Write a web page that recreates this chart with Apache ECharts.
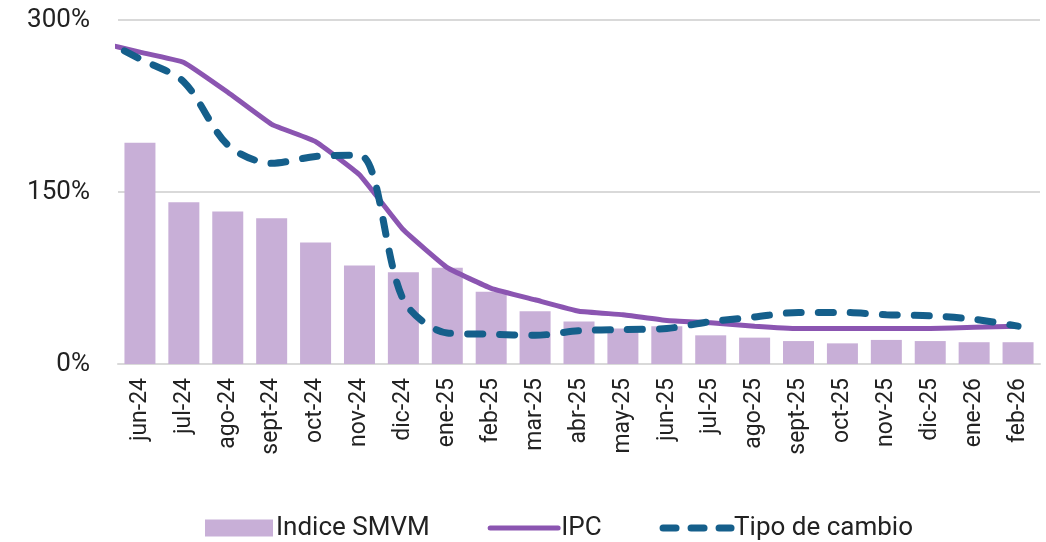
<!DOCTYPE html>
<html>
<head>
<meta charset="utf-8">
<script src="https://cdn.jsdelivr.net/npm/echarts@6/dist/echarts.min.js"></script>
<style>
  html, body { margin: 0; padding: 0; background: #fff; }
  #chart { width: 1046px; height: 542px; }
</style>
</head>
<body>
<div id="chart"></div>
<script>
// meses
var meses = ['jun-24', 'jul-24', 'ago-24', 'sept-24', 'oct-24', 'nov-24', 'dic-24',
  'ene-25', 'feb-25', 'mar-25', 'abr-25', 'may-25', 'jun-25', 'jul-25', 'ago-25',
  'sept-25', 'oct-25', 'nov-25', 'dic-25', 'ene-26', 'feb-26']

var smvm = [193, 141, 133, 127, 106, 86, 80, 84, 63, 46, 37, 31, 33, 25, 23, 20, 18, 21, 20, 19, 19]
// las lineas arrancan un mes antes (may-24), que queda cortado en el borde del grafico
var ipc = [281, 272, 263, 237, 209, 194, 165, 117, 84, 66, 56, 46, 43, 38, 36, 33, 31, 31, 31, 31, 32, 33]
var tipoCambio = [286, 266, 246, 191, 175, 181, 182, 56, 27, 26, 25, 29, 30, 31, 37, 41, 45, 45, 43, 42, 39, 33]

var yTicks = [0, 150, 300]

// x de las lineas: indice del mes (-1 = may-24)
function conIndice(arr) {
  return arr.map(function (v, i) { return [i - 1, v] })
}

var myChart = echarts.init(document.getElementById('chart'))
var option = {
  animation: false,
  textStyle: { fontFamily: 'Roboto' },
  grid: { left: 118, right: 6, top: 20, bottom: 178 },
  legend: {
    top: 510,
    left: 200,
    itemGap: 58,
    itemWidth: 68,
    itemHeight: 17,
    textStyle: { fontSize: 26, color: '#222', fontFamily: 'Roboto', padding: [0, 0, 0, -2] },
    data: [
      { name: 'Indice SMVM', icon: 'rect' },
      { name: 'IPC', itemStyle: { opacity: 0 }, lineStyle: { width: 5, cap: 'round' } },
      { name: 'Tipo de cambio', itemStyle: { opacity: 0 }, lineStyle: { width: 7, cap: 'round', type: [13, 15] } }
    ]
  },
  xAxis: [
    {
      type: 'category',
      data: meses,
      axisLine: { lineStyle: { color: '#d9d9d9', width: 2 } },
      axisTick: { show: false },
      axisLabel: { rotate: 90, fontSize: 23, color: '#222', margin: 14, interval: 0 }
    },
    {
      type: 'value',
      min: -0.5,
      max: meses.length - 0.5,
      show: false
    }
  ],
  yAxis: {
    type: 'value',
    min: 0,
    max: 300,
    interval: 150,
    axisLine: { show: false },
    axisTick: { show: false },
    axisLabel: {
      formatter: function (v) { return yTicks.indexOf(v) >= 0 ? v + '%' : '' },
      fontSize: 26, color: '#222', margin: 28
    },
    splitLine: { lineStyle: { color: '#d9d9d9', width: 2 } }
  },
  series: [
    {
      name: 'Indice SMVM',
      type: 'bar',
      data: smvm,
      barWidth: 31,
      itemStyle: { color: '#c8afd7' }
    },
    {
      name: 'IPC',
      type: 'line',
      xAxisIndex: 1,
      data: conIndice(ipc),
      clip: true,
      smooth: 0.1,
      symbol: 'none',
      lineStyle: { color: '#8b55b1', width: 5 },
      itemStyle: { color: '#8b55b1' }
    },
    {
      name: 'Tipo de cambio',
      type: 'line',
      xAxisIndex: 1,
      data: conIndice(tipoCambio),
      clip: true,
      smooth: 0.3,
      symbol: 'none',
      lineStyle: { color: '#155f8b', width: 7, type: [15, 17], cap: 'round' },
      itemStyle: { color: '#155f8b' }
    }
  ]
}
myChart.setOption(option)
</script>
</body>
</html>
